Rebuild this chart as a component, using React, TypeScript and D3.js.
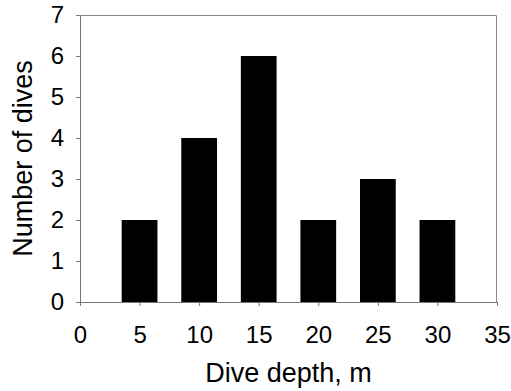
import { useRef, useEffect } from 'react';
import * as d3 from 'd3';

const depths = [5, 10, 15, 20, 25, 30];
const dives = [2, 4, 6, 2, 3, 2];
const xTicks = [0, 5, 10, 15, 20, 25, 30, 35];
const yTicks = [0, 1, 2, 3, 4, 5, 6, 7];

export default function App() {
    const ref = useRef<SVGSVGElement | null>(null);

    useEffect(() => {
        const width = 511;
        const height = 391;
        const margin = { top: 15, right: 14, bottom: 89, left: 80 };
        const w = width - margin.left - margin.right;
        const h = height - margin.top - margin.bottom;
        const font = '"Liberation Sans", Arial, sans-serif';

        d3.select(ref.current).selectAll('*').remove();

        const svg = d3
            .select(ref.current)
            .attr('width', width)
            .attr('height', height)
            .append('g')
            .attr('transform', `translate(${margin.left},${margin.top})`);

        const x = d3.scaleLinear().domain([0, 35]).range([0, w]);
        const y = d3.scaleLinear().domain([0, 7]).range([h, 0]);

        // frame top/right
        svg.append('path')
            .attr('d', `M0,0.5H${w - 0.5}V${h}`)
            .attr('fill', 'none')
            .attr('stroke', '#8a8a8a')
            .attr('stroke-width', 1);

        // bars
        svg.selectAll('rect.bar')
            .data(depths)
            .enter()
            .append('rect')
            .attr('class', 'bar')
            .attr('x', d => x(d - 1.5))
            .attr('width', d => x(d + 1.5) - x(d - 1.5))
            .attr('y', (_, i) => y(dives[i]))
            .attr('height', (_, i) => h - y(dives[i]))
            .attr('fill', '#000');

        const xAxis = svg.append('g')
            .attr('transform', `translate(0,${h})`)
            .call(d3.axisBottom(x).tickValues(xTicks).tickFormat(d3.format('d')).tickSize(4).tickPadding(20));
        const yAxis = svg.append('g')
            .call(d3.axisLeft(y).tickValues(yTicks).tickFormat(d3.format('d')).tickSize(4).tickPadding(12));

        [xAxis, yAxis].forEach(a => {
            a.select('.domain').attr('stroke', '#777');
            a.selectAll('.tick line').attr('stroke', '#777');
            a.selectAll('.tick text')
                .attr('fill', '#000')
                .style('font-family', font)
                .style('font-size', '24px');
        });

        svg.append('text')
            .attr('x', w / 2)
            .attr('y', h + 80)
            .attr('text-anchor', 'middle')
            .style('font-family', font)
            .style('font-size', '27px')
            .text('Dive depth, m');

        svg.append('text')
            .attr('transform', `translate(${32 - margin.left},${h / 2}) rotate(-90)`)
            .attr('text-anchor', 'middle')
            .style('font-family', font)
            .style('font-size', '27px')
            .text('Number of dives');
    }, []);

    return (
        <div style={{ position: 'absolute', left: 0, top: 0, background: '#fff' }}>
            <svg ref={ref} style={{ display: 'block' }} />
        </div>
    );
}
